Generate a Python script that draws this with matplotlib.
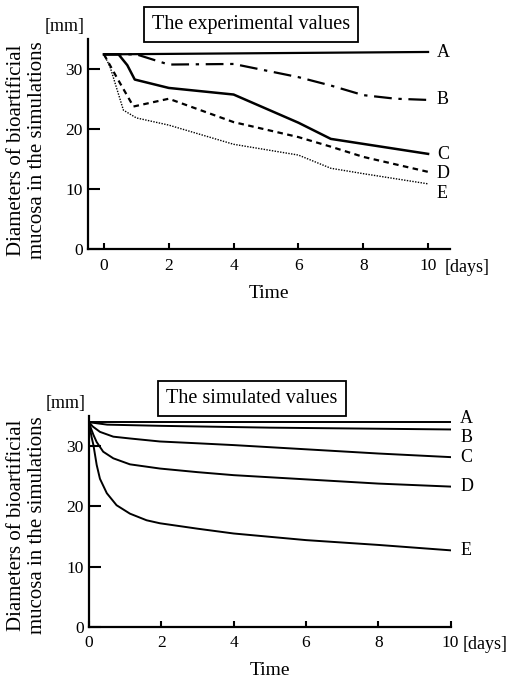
import matplotlib.pyplot as plt

plt.rcParams['font.family'] = ['Liberation Serif', 'DejaVu Serif']

# experimental values (days, mm)
exp_A_t = [0, 10]
exp_A = [32.5, 32.9]
exp_B_t = [0, 1, 2, 4, 6, 7, 8, 9, 10]
exp_B = [32.5, 32.5, 30.8, 30.9, 28.7, 27.3, 25.7, 25.1, 24.9]
exp_C_t = [0, 0.45, 0.72, 0.95, 2, 4, 6, 7, 10]
exp_C = [32.5, 32.5, 30.7, 28.3, 26.9, 25.8, 21.1, 18.4, 15.9]
exp_D_t = [0, 0.39, 0.91, 2, 4, 6, 7, 8, 10]
exp_D = [32.5, 28.7, 23.8, 25.1, 21.2, 18.7, 17.1, 15.4, 12.9]
exp_E_t = [0, 0.19, 0.6, 1, 2, 4, 6, 7, 8, 10]
exp_E = [32.5, 30.4, 23.2, 21.9, 20.7, 17.5, 15.7, 13.5, 12.6, 10.9]

# simulated values (days, mm)
sim_A_t = [0, 10]
sim_A = [34.0, 34.0]
sim_B_t = [0, 0.5, 2, 5, 10]
sim_B = [34.0, 33.6, 33.4, 33.1, 32.8]
sim_C_t = [0, 0.1, 0.3, 0.67, 1.13, 1.96, 3, 4, 6, 8, 10]
sim_C = [34.0, 33.3, 32.4, 31.6, 31.3, 30.8, 30.5, 30.2, 29.5, 28.8, 28.2]
sim_D_t = [0, 0.05, 0.12, 0.21, 0.39, 0.67, 1.13, 1.96, 3, 4, 6, 8, 10]
sim_D = [34.0, 33.0, 31.9, 30.7, 29.1, 28.0, 27.0, 26.3, 25.7, 25.2, 24.5, 23.8, 23.3]
sim_E_t = [0, 0.03, 0.07, 0.12, 0.21, 0.30, 0.49, 0.76, 1.13, 1.59, 1.96, 3, 4, 6, 8, 10]
sim_E = [34.0, 32.8, 31.5, 30.2, 26.9, 24.6, 22.2, 20.2, 18.8, 17.7, 17.2, 16.3, 15.5, 14.4, 13.6, 12.7]

xticks = [0, 2, 4, 6, 8, 10]
yticks = [0, 10, 20, 30]

fig = plt.figure(figsize=(5.15, 6.79), dpi=100)


def style_axes(ax, xlim, title, title_y, ylab_y, days_x):
    ax.set_xlim(*xlim)
    ax.set_ylim(0, 35)
    ax.set_xticks(xticks)
    ax.set_yticks(yticks)
    for s in ['top', 'right']:
        ax.spines[s].set_visible(False)
    for s in ['left', 'bottom']:
        ax.spines[s].set_linewidth(1.6)
    ax.tick_params(axis='y', direction='in', length=8.5, width=1.5, labelsize=12.5, pad=4)
    ax.tick_params(axis='x', direction='in', length=4.5, width=1.5, labelsize=12.5, pad=6)
    ax.set_xlabel('Time', fontsize=14, labelpad=8)
    fig.text(27 / 515, ylab_y, 'Diameters of bioartificial\nmucosa in the simulations',
             rotation=90, fontsize=15, ha='center', va='center', linespacing=1.2)
    ax.text(-0.01, 1.02, '[mm]', transform=ax.transAxes, fontsize=13,
            ha='right', va='bottom')
    ax.text(days_x, -0.045, '[days]', transform=ax.get_xaxis_transform(), fontsize=13,
            ha='left', va='top')
    ax.text(0.45, title_y, title, transform=ax.transAxes, fontsize=14.5,
            ha='center', va='center',
            bbox=dict(boxstyle='square,pad=0.4', fc='white', ec='black', lw=1.3))


# top: experimental
ax1 = fig.add_axes([0.171, 0.633, 0.703, 0.309])
ax1.plot(exp_A_t, exp_A, color='black', lw=1.6)
ax1.plot(exp_B_t, exp_B, color='black', lw=1.6, dashes=(8, 3, 1.5, 3))
ax1.plot(exp_C_t, exp_C, color='black', lw=1.8)
ax1.plot(exp_D_t, exp_D, color='black', lw=1.6, dashes=(2.5, 2))
ax1.plot(exp_E_t, exp_E, color='black', lw=1.0, dashes=(1, 1))
for name, yv in zip('ABCDE', [32.8, 25.0, 15.8, 12.7, 9.3]):
    ax1.text(10.27, yv, name, fontsize=13, ha='left', va='center')
style_axes(ax1, (-0.49, 10.68), 'The experimental values', 1.07, 0.779, 10.52)

# bottom: simulated
ax2 = fig.add_axes([0.173, 0.077, 0.702, 0.310])
for t, v in [(sim_A_t, sim_A), (sim_B_t, sim_B), (sim_C_t, sim_C),
             (sim_D_t, sim_D), (sim_E_t, sim_E)]:
    ax2.plot(t, v, color='black', lw=1.4)
for name, yv in zip('ABCDE', [34.7, 31.5, 28.2, 23.3, 12.6]):
    ax2.text(10.26, yv, name, fontsize=13, ha='left', va='center')
style_axes(ax2, (0, 10), 'The simulated values', 1.085, 0.226, 10.32)

fig.savefig('out.png', dpi=100)
